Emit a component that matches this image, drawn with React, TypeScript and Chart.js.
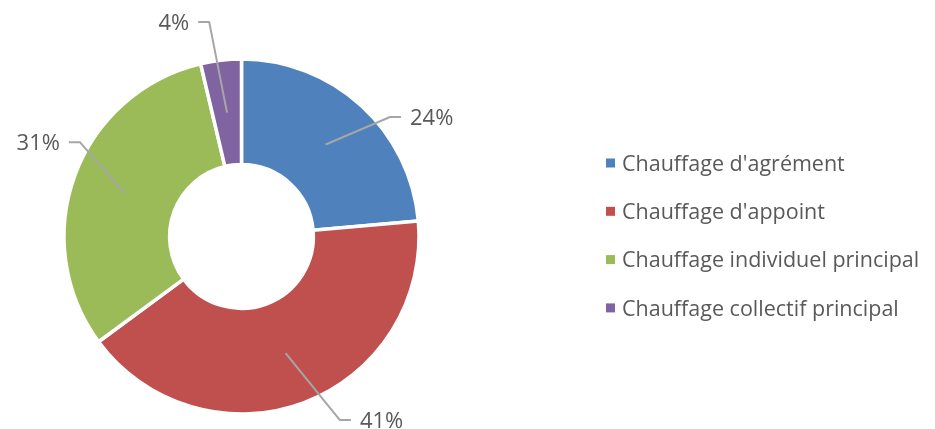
import React, { useEffect, useRef } from "react";
import { Chart, registerables } from "chart.js";

Chart.register(...registerables);

// ---- data ----
const categories = [
  "Chauffage d'agrément",
  "Chauffage d'appoint",
  "Chauffage individuel principal",
  "Chauffage collectif principal",
];
const shares = [23.6, 41.3, 31.4, 3.7];
const percentLabels = ["24%", "41%", "31%", "4%"];

// ---- style ----
const colors = ["#4F81BD", "#C0504D", "#9BBB59", "#8064A2"];
const labelAngleShiftDeg = [8.7, -7.5, 10.1, -1.9];
const labelElbowRadius = [190.6, 208.3, 187.1, 217];
const FONT = "'Open Sans', 'Noto Sans', sans-serif";
const TEXT_COLOR = "#595959";
const LINE_COLOR = "#A6A6A6";

const labelsPlugin = {
  id: "leaderLabels",
  afterDatasetsDraw(chart: any) {
    const ctx = chart.ctx as CanvasRenderingContext2D;
    const meta = chart.getDatasetMeta(0);
    ctx.save();
    meta.data.forEach((arc: any, i: number) => {
      const p = arc.getProps(["x", "y", "startAngle", "endAngle", "innerRadius", "outerRadius"], true);
      const mid = (p.startAngle + p.endAngle) / 2;
      const rMid = (p.innerRadius + p.outerRadius) / 2;
      const sx = p.x + rMid * Math.cos(mid);
      const sy = p.y + rMid * Math.sin(mid);
      const ang = mid + (labelAngleShiftDeg[i] * Math.PI) / 180;
      const R = labelElbowRadius[i];
      const ex = p.x + R * Math.cos(ang);
      const ey = p.y + R * Math.sin(ang);
      const right = ex > p.x;
      const hx = ex + (right ? 11 : -11);
      ctx.strokeStyle = LINE_COLOR;
      ctx.lineWidth = 2;
      ctx.lineJoin = "round";
      ctx.beginPath();
      ctx.moveTo(sx, sy);
      ctx.lineTo(ex, ey);
      ctx.lineTo(hx, ey);
      ctx.stroke();
      ctx.fillStyle = TEXT_COLOR;
      ctx.font = `22px ${FONT}`;
      ctx.textAlign = right ? "left" : "right";
      ctx.textBaseline = "alphabetic";
      ctx.fillText(percentLabels[i], hx + (right ? 9 : -9), ey + 8);
    });

    // legend
    const lx = 606;
    const ly0 = 163;
    const step = 48.3;
    ctx.font = `21.5px ${FONT}`;
    ctx.textAlign = "left";
    ctx.textBaseline = "alphabetic";
    categories.forEach((name, i) => {
      const cy = ly0 + i * step;
      ctx.fillStyle = colors[i];
      ctx.fillRect(lx, cy - 4.5, 9, 9);
      ctx.fillStyle = TEXT_COLOR;
      ctx.fillText(name, lx + 16, cy + 7.7);
    });
    ctx.restore();
  },
};

export default function App() {
  const ref = useRef<HTMLCanvasElement | null>(null);
  useEffect(() => {
    if (!ref.current) return;
    const chart = new Chart(ref.current, {
      type: "doughnut",
      data: {
        labels: categories,
        datasets: [
          {
            data: shares,
            backgroundColor: colors,
            borderColor: "#FFFFFF",
            borderWidth: 3.5,
            radius: 177.5,
            hoverOffset: 0,
          } as any,
        ],
      },
      options: {
        animation: false,
        responsive: false,
        maintainAspectRatio: false,
        cutout: "40.5%",
        layout: { padding: { left: 0, right: 452, top: 44, bottom: 0 } },
        events: [],
        plugins: {
          legend: { display: false },
          tooltip: { enabled: false },
          title: { display: false },
        },
      },
      plugins: [labelsPlugin],
    });
    return () => chart.destroy();
  }, []);
  return (
    <div style={{ position: "absolute", left: 0, top: 0, width: 935, height: 429, background: "#FFFFFF" }}>
      <canvas ref={ref} width={935} height={429} style={{ display: "block", width: 935, height: 429 }} />
    </div>
  );
}
